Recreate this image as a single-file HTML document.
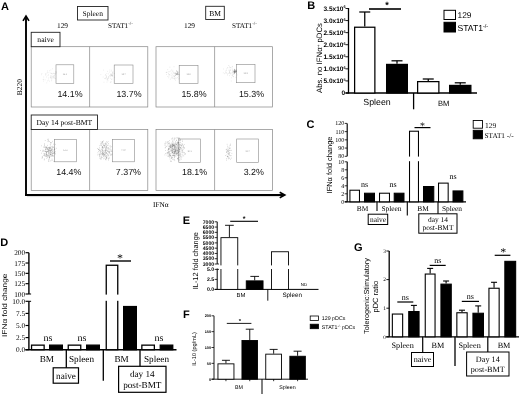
<!DOCTYPE html>
<html lang="en">
<head>
<meta charset="utf-8">
<title>Figure</title>
<style>
html,body{margin:0;padding:0;background:#fff;}
body{width:520px;height:395px;overflow:hidden;}
svg{display:block;text-rendering:geometricPrecision;}
.sa{font-family:'Liberation Sans', Arial, sans-serif;}
.se{font-family:'Liberation Serif', 'Times New Roman', serif;}
</style>
</head>
<body>
<svg width="520" height="395" viewBox="0 0 520 395">
<rect x="0" y="0" width="520" height="395" fill="#fff"/>
<text class="sa" x="1.1" y="9.5" font-size="11" text-anchor="start" font-weight="bold" fill="#000" >A</text>
<line x1="26" y1="16.5" x2="26" y2="195.9" stroke="#000" stroke-width="1.9" />
<path d="M23 20.8 L26 16 L29 20.8" fill="none" stroke="#000" stroke-width="1.6" stroke-linejoin="miter"/>
<line x1="25" y1="195" x2="284" y2="195" stroke="#000" stroke-width="1.9" />
<path d="M279.7 192.2 L284.8 195 L279.7 197.8" fill="none" stroke="#000" stroke-width="1.6" stroke-linejoin="miter"/>
<line x1="27" y1="196.6" x2="279" y2="196.6" stroke="#ccc" stroke-width="0.7" />
<text class="se" transform="translate(21.5,87.2) rotate(-90)" font-size="7.5" text-anchor="middle" fill="#000">B220</text>
<text class="se" x="153" y="206.5" font-size="7.3" text-anchor="start" font-weight="normal" fill="#000" >IFNα</text>
<rect x="77.50" y="6.50" width="30.50" height="13.50" fill="#fff" stroke="#222" stroke-width="0.9" />
<text class="se" x="92.7" y="16" font-size="7.5" text-anchor="middle" font-weight="normal" fill="#000" >Spleen</text>
<rect x="205.70" y="6.30" width="18.60" height="13.20" fill="#fff" stroke="#222" stroke-width="0.9" />
<text class="se" x="215" y="15.8" font-size="7.5" text-anchor="middle" font-weight="normal" fill="#000" >BM</text>
<text class="se" x="62.5" y="28" font-size="7.4" text-anchor="middle" font-weight="normal" fill="#000" >129</text>
<text class="se" x="189.5" y="28" font-size="7.4" text-anchor="middle" font-weight="normal" fill="#000" >129</text>
<text class="se" x="108" y="28" font-size="7.2">STAT1<tspan font-size="5" dy="-2.6">-/-</tspan></text>
<text class="se" x="232" y="28" font-size="7.2">STAT1<tspan font-size="5" dy="-2.6">-/-</tspan></text>
<rect x="31.20" y="46.70" width="116.60" height="60.30" fill="none" stroke="#858585" stroke-width="0.7" />
<line x1="89.6" y1="46.7" x2="89.6" y2="107" stroke="#858585" stroke-width="0.7" />
<rect x="156.00" y="46.70" width="116.50" height="60.30" fill="none" stroke="#858585" stroke-width="0.7" />
<line x1="214.6" y1="46.7" x2="214.6" y2="107" stroke="#858585" stroke-width="0.7" />
<rect x="31.20" y="129.50" width="116.60" height="60.90" fill="none" stroke="#858585" stroke-width="0.7" />
<line x1="89.6" y1="129.5" x2="89.6" y2="190.4" stroke="#858585" stroke-width="0.7" />
<rect x="156.00" y="129.50" width="116.50" height="60.90" fill="none" stroke="#858585" stroke-width="0.7" />
<line x1="214.6" y1="129.5" x2="214.6" y2="190.4" stroke="#858585" stroke-width="0.7" />
<rect x="31.20" y="32.30" width="28.80" height="14.40" fill="#fff" stroke="#222" stroke-width="0.9" />
<text class="se" x="45.6" y="42.3" font-size="7.6" text-anchor="middle" font-weight="normal" fill="#000" >naive</text>
<rect x="31.20" y="115.00" width="66.30" height="14.50" fill="#fff" stroke="#222" stroke-width="0.9" />
<text class="se" x="64.3" y="125" font-size="7.6" text-anchor="middle" font-weight="normal" fill="#000" >Day 14 post-BMT</text>
<rect x="56.00" y="64.80" width="17.80" height="18.60" fill="none" stroke="#8a8a8a" stroke-width="0.6" />
<text class="sa" x="70" y="96.5" font-size="8.9" text-anchor="middle" font-weight="normal" fill="#111" >14.1%</text>
<text class="sa" x="64.9" y="74.89999999999999" font-size="2.2" text-anchor="middle" font-weight="normal" fill="#999" >14.1</text>
<rect x="114.20" y="65.00" width="18.80" height="18.50" fill="none" stroke="#8a8a8a" stroke-width="0.6" />
<text class="sa" x="129" y="96.5" font-size="8.9" text-anchor="middle" font-weight="normal" fill="#111" >13.7%</text>
<text class="sa" x="123.6" y="75.05" font-size="2.2" text-anchor="middle" font-weight="normal" fill="#999" >13.7</text>
<rect x="179.20" y="65.40" width="18.80" height="18.10" fill="none" stroke="#8a8a8a" stroke-width="0.6" />
<text class="sa" x="194" y="96.5" font-size="8.9" text-anchor="middle" font-weight="normal" fill="#111" >15.8%</text>
<text class="sa" x="188.6" y="75.25" font-size="2.2" text-anchor="middle" font-weight="normal" fill="#999" >15.8</text>
<rect x="236.30" y="64.60" width="18.70" height="18.10" fill="none" stroke="#8a8a8a" stroke-width="0.6" />
<text class="sa" x="251.5" y="96.5" font-size="8.9" text-anchor="middle" font-weight="normal" fill="#111" >15.3%</text>
<text class="sa" x="245.65" y="74.45" font-size="2.2" text-anchor="middle" font-weight="normal" fill="#999" >15.3</text>
<rect x="54.50" y="139.50" width="21.80" height="22.30" fill="none" stroke="#8a8a8a" stroke-width="0.6" />
<text class="sa" x="68.8" y="175.2" font-size="8.9" text-anchor="middle" font-weight="normal" fill="#111" >14.4%</text>
<text class="sa" x="65.4" y="151.45000000000002" font-size="2.2" text-anchor="middle" font-weight="normal" fill="#999" >14.4</text>
<rect x="112.50" y="139.50" width="22.00" height="22.30" fill="none" stroke="#8a8a8a" stroke-width="0.6" />
<text class="sa" x="128.4" y="175.2" font-size="8.9" text-anchor="middle" font-weight="normal" fill="#111" >7.37%</text>
<text class="sa" x="123.5" y="151.45000000000002" font-size="2.2" text-anchor="middle" font-weight="normal" fill="#999" >7.37</text>
<rect x="178.80" y="139.00" width="21.50" height="23.50" fill="none" stroke="#8a8a8a" stroke-width="0.6" />
<text class="sa" x="194.6" y="175.2" font-size="8.9" text-anchor="middle" font-weight="normal" fill="#111" >18.1%</text>
<text class="sa" x="189.55" y="151.55" font-size="2.2" text-anchor="middle" font-weight="normal" fill="#999" >18.1</text>
<rect x="236.70" y="139.00" width="21.80" height="23.50" fill="none" stroke="#8a8a8a" stroke-width="0.6" />
<text class="sa" x="253.8" y="175.2" font-size="8.9" text-anchor="middle" font-weight="normal" fill="#111" >3.2%</text>
<text class="sa" x="247.6" y="151.55" font-size="2.2" text-anchor="middle" font-weight="normal" fill="#999" >3.17</text>
<path d="M48.0 78.0h.6M48.2 74.7h.6M45.5 75.1h.6M53.2 77.7h.6M52.9 77.0h.6M50.5 76.7h.6M42.8 79.4h.6M50.9 78.0h.6M45.7 74.1h.6M50.1 75.8h.6M51.0 73.4h.6M50.2 77.6h.6M46.5 82.9h.6M51.1 80.8h.6M46.7 73.0h.6M47.7 75.6h.6M51.4 77.0h.6M47.3 72.2h.6M47.0 80.9h.6M46.0 77.0h.6M50.6 70.0h.6M49.2 81.2h.6M41.4 74.7h.6M48.6 72.7h.6M50.9 75.8h.6M43.5 79.3h.6M51.5 79.8h.6M54.4 77.4h.6M49.4 70.8h.6M51.3 73.6h.6M47.3 70.9h.6M45.4 73.9h.6M43.5 77.0h.6M54.4 78.3h.6M50.3 73.1h.6M44.8 79.9h.6M53.1 76.6h.6M49.9 77.7h.6M55.0 78.5h.6M50.9 78.2h.6M43.1 81.1h.6M52.6 78.1h.6M41.6 73.5h.6M52.2 68.8h.6M48.3 80.1h.6" stroke="#555" stroke-width="0.6" opacity="0.25" fill="none"/>
<path d="M52.4 76.8h.6M54.7 73.7h.6M54.4 75.1h.6M54.2 76.0h.6M53.2 73.3h.6M55.3 74.0h.6M52.9 75.7h.6M55.8 73.2h.6M52.3 73.8h.6M53.8 73.5h.6M55.8 72.2h.6M55.6 71.8h.6" stroke="#555" stroke-width="0.6" opacity="0.3" fill="none"/>
<path d="M104.0 78.5h.6M111.2 79.4h.6M108.3 76.6h.6M107.6 78.3h.6M106.3 77.1h.6M109.1 76.0h.6M109.9 78.3h.6M114.5 77.3h.6M105.4 74.5h.6M107.0 79.7h.6M105.7 77.5h.6M102.8 77.0h.6M108.5 77.0h.6M105.4 78.6h.6M108.1 73.9h.6M104.9 75.6h.6M106.2 75.7h.6M110.8 71.3h.6M106.7 79.8h.6M110.2 82.0h.6M100.6 74.6h.6M105.7 78.5h.6M111.1 70.2h.6M109.6 70.0h.6M107.7 80.8h.6M106.4 76.8h.6M110.0 76.6h.6M106.7 82.1h.6M110.9 74.8h.6M110.4 74.9h.6M107.5 78.8h.6M107.8 78.6h.6M109.3 72.1h.6M103.2 70.1h.6M111.7 79.0h.6M112.5 72.2h.6M107.0 71.4h.6M109.9 82.4h.6M103.7 82.2h.6M110.7 75.3h.6M106.6 73.6h.6M108.5 77.6h.6M112.6 71.9h.6M111.3 81.9h.6M112.4 75.3h.6" stroke="#555" stroke-width="0.6" opacity="0.25" fill="none"/>
<path d="M111.1 75.8h.6M112.1 74.2h.6M113.8 73.5h.6M109.7 75.4h.6M112.4 72.9h.6M112.0 75.5h.6M112.1 76.3h.6M111.9 75.8h.6M111.2 75.5h.6M110.5 74.0h.6M111.8 73.9h.6M111.3 74.4h.6" stroke="#555" stroke-width="0.6" opacity="0.3" fill="none"/>
<path d="M178.7 75.2h.6M174.0 79.0h.6M171.3 70.0h.6M169.9 79.3h.6M165.8 72.6h.6M175.8 78.2h.6M172.0 78.2h.6M172.6 70.3h.6M166.1 72.4h.6M175.5 72.7h.6M168.6 71.9h.6M166.3 74.5h.6M167.6 76.5h.6M169.6 67.2h.6M174.7 73.9h.6M173.1 73.2h.6M174.9 78.0h.6M174.5 76.3h.6M177.0 77.6h.6M173.7 66.7h.6M175.4 80.2h.6M170.9 73.1h.6M168.5 77.8h.6M179.1 74.5h.6M174.1 78.6h.6M168.6 74.6h.6M173.1 78.3h.6M171.9 74.2h.6M168.2 73.6h.6M175.3 75.4h.6M168.8 71.6h.6M174.3 76.9h.6M178.3 76.7h.6M171.7 77.1h.6M173.2 72.2h.6M166.7 72.3h.6M173.1 75.7h.6M170.5 71.1h.6M167.5 69.6h.6M178.4 79.0h.6M178.8 78.2h.6M168.7 76.0h.6M171.8 77.1h.6M169.3 74.5h.6M173.7 76.5h.6M174.4 75.8h.6M170.8 78.2h.6M172.2 71.7h.6M169.7 75.0h.6M171.6 75.6h.6" stroke="#555" stroke-width="0.6" opacity="0.28" fill="none"/>
<path d="M176.5 73.3h.6M176.4 71.1h.6M177.0 74.6h.6M177.0 72.7h.6M177.0 71.6h.6M174.4 73.1h.6M175.5 74.1h.6M175.4 75.4h.6M176.1 70.9h.6M175.7 73.8h.6M177.0 73.3h.6M178.1 74.1h.6M176.5 73.9h.6M178.3 74.5h.6M177.6 71.4h.6M176.3 74.1h.6M176.2 74.6h.6M177.2 74.4h.6M177.9 72.7h.6M176.1 74.3h.6M177.6 73.0h.6M175.2 73.3h.6M176.9 74.7h.6M177.4 73.0h.6M177.4 73.8h.6" stroke="#555" stroke-width="0.6" opacity="0.5" fill="none"/>
<path d="M230.8 73.2h.6M229.1 75.6h.6M226.0 70.6h.6M230.0 67.5h.6M228.4 65.5h.6M227.4 75.1h.6M232.1 72.8h.6M229.1 67.7h.6M236.9 74.9h.6M234.1 69.7h.6M229.3 66.2h.6M232.9 76.5h.6M222.9 72.8h.6M232.4 66.4h.6M223.2 69.0h.6M227.6 67.7h.6M230.1 73.9h.6M232.4 75.6h.6M235.6 77.4h.6M225.1 71.1h.6M226.0 69.0h.6M229.7 73.0h.6M231.8 67.0h.6M225.4 72.9h.6M229.3 71.8h.6M229.8 70.2h.6M232.6 74.3h.6M229.7 70.5h.6M226.3 73.1h.6M224.4 73.7h.6M230.6 67.8h.6M229.1 71.8h.6M231.7 75.3h.6M229.9 69.8h.6M229.5 72.8h.6M232.8 74.1h.6M227.3 67.9h.6M228.6 70.2h.6M225.8 72.6h.6M228.2 73.4h.6M232.0 71.5h.6M234.1 73.5h.6M227.2 73.9h.6M231.2 77.8h.6M232.9 76.6h.6M231.9 72.4h.6M231.9 69.0h.6M234.4 69.2h.6M230.9 81.0h.6M229.2 73.1h.6" stroke="#555" stroke-width="0.6" opacity="0.28" fill="none"/>
<path d="M235.7 71.5h.6M233.7 71.8h.6M235.1 72.4h.6M233.7 73.8h.6M236.2 71.5h.6M234.8 70.9h.6M235.9 70.6h.6M235.2 70.9h.6M233.8 72.4h.6M235.8 71.5h.6M233.8 72.6h.6M234.5 71.9h.6M236.0 73.0h.6M234.5 72.5h.6M233.9 71.4h.6M235.9 69.9h.6M235.7 70.9h.6M234.4 71.1h.6M234.4 70.1h.6M234.5 69.6h.6M234.4 71.9h.6M235.0 71.2h.6M233.6 71.7h.6M234.0 73.5h.6M235.3 71.4h.6M234.0 70.6h.6M233.6 71.0h.6M234.8 72.2h.6M233.8 71.5h.6M234.0 71.7h.6M234.7 72.0h.6M234.3 72.0h.6M234.6 72.5h.6M232.6 70.3h.6M234.5 70.2h.6" stroke="#555" stroke-width="0.6" opacity="0.6" fill="none"/>
<path d="M44.3 155.1h.6M45.9 155.2h.6M51.5 153.3h.6M50.5 150.9h.6M42.9 151.3h.6M50.3 148.5h.6M48.1 155.8h.6M45.0 155.2h.6M56.0 148.3h.6M49.1 150.6h.6M54.7 153.3h.6M52.1 147.5h.6M48.4 151.4h.6M52.1 141.4h.6M51.5 150.7h.6M50.3 153.6h.6M42.5 150.3h.6M54.5 148.2h.6M44.4 143.7h.6M43.6 153.4h.6M55.3 154.0h.6M46.4 147.6h.6M50.6 154.7h.6M44.4 144.8h.6M49.7 152.9h.6M43.3 150.3h.6M46.3 154.1h.6M48.0 151.0h.6M47.1 157.6h.6M54.1 149.4h.6M51.9 147.1h.6M48.8 155.8h.6M54.6 149.3h.6M48.2 152.6h.6M42.5 151.6h.6M45.8 153.6h.6M48.7 153.0h.6M46.3 156.6h.6M47.4 148.0h.6M50.4 142.5h.6M45.8 151.4h.6M51.9 150.6h.6M49.7 147.7h.6M49.7 161.1h.6M45.9 151.6h.6M49.2 157.4h.6M50.9 156.1h.6M49.3 153.0h.6M52.2 153.6h.6M55.2 144.4h.6M51.7 149.4h.6M48.5 150.0h.6M46.5 146.7h.6M46.0 155.2h.6M48.6 151.9h.6M47.8 156.8h.6M50.5 150.7h.6M51.2 150.6h.6M43.9 159.9h.6M50.4 146.0h.6M52.8 153.5h.6M49.8 156.6h.6M49.3 150.6h.6M42.3 157.1h.6M48.6 149.9h.6M49.9 151.9h.6M51.2 149.4h.6M48.4 139.2h.6M46.8 155.4h.6M53.8 149.4h.6M48.0 160.6h.6M47.2 155.7h.6M55.2 151.7h.6M53.4 147.4h.6M49.3 151.1h.6M49.0 158.0h.6M46.2 154.4h.6M44.3 154.4h.6M50.8 149.9h.6M50.6 142.6h.6M51.5 142.6h.6M45.7 148.3h.6M46.9 156.4h.6M48.8 149.2h.6M50.7 160.6h.6M48.5 153.6h.6M53.5 153.0h.6M48.3 153.9h.6M52.4 155.3h.6M47.4 145.4h.6M48.9 157.4h.6M44.1 145.6h.6M48.4 140.4h.6M47.5 149.0h.6M50.3 147.5h.6M45.0 149.2h.6M48.3 147.7h.6M48.5 155.8h.6M53.2 161.3h.6M45.4 149.1h.6M45.6 151.3h.6M50.6 143.7h.6M50.4 151.3h.6M41.2 153.2h.6M51.7 152.7h.6M50.4 154.0h.6M53.7 150.2h.6M52.0 149.1h.6M51.4 146.8h.6M48.1 161.5h.6M50.3 150.6h.6M43.9 147.0h.6M49.3 156.9h.6M50.2 154.5h.6M48.3 159.3h.6M46.9 148.3h.6M52.1 151.9h.6M47.4 148.2h.6M47.5 155.1h.6M49.9 144.5h.6M50.2 152.5h.6M44.5 155.9h.6M47.4 149.6h.6M51.7 159.1h.6M45.7 154.0h.6M46.5 158.4h.6M45.9 156.2h.6M46.8 154.4h.6M48.1 147.7h.6M41.9 156.4h.6M41.6 158.1h.6M46.2 152.3h.6M53.5 152.2h.6M53.2 155.8h.6M45.2 156.4h.6M50.5 155.2h.6M52.1 155.7h.6M49.2 154.3h.6M47.2 151.7h.6M52.0 149.0h.6M53.1 147.0h.6M49.6 148.5h.6M49.1 147.5h.6M42.1 157.8h.6M49.7 148.3h.6M49.3 157.2h.6M44.6 150.9h.6M50.7 154.5h.6M47.2 139.4h.6M53.5 153.4h.6M48.6 149.9h.6M49.6 149.1h.6M44.4 147.2h.6M46.1 148.0h.6M43.9 155.2h.6M43.3 155.3h.6M44.4 153.5h.6M54.0 152.7h.6M45.6 151.8h.6M49.1 141.5h.6M46.1 152.4h.6M46.6 152.0h.6M51.4 155.9h.6M52.1 154.9h.6M47.3 151.4h.6M47.4 149.7h.6M47.8 141.6h.6M47.2 151.4h.6M44.6 151.4h.6M50.6 150.6h.6M47.7 141.0h.6M50.6 149.8h.6M51.9 153.6h.6M48.6 148.1h.6M51.1 148.7h.6M49.4 148.6h.6M49.3 155.8h.6M45.0 151.3h.6M51.0 152.3h.6M44.9 140.5h.6M51.9 160.3h.6M52.2 156.2h.6M46.0 147.4h.6M52.1 146.3h.6M41.2 145.8h.6M45.8 147.3h.6M49.4 147.2h.6M53.7 151.0h.6M44.2 159.0h.6M46.2 152.8h.6M48.4 149.7h.6M49.8 147.5h.6M43.4 147.1h.6M48.4 151.8h.6M50.7 152.2h.6M45.3 147.4h.6M40.0 150.5h.6M50.4 154.5h.6M48.0 150.5h.6M52.2 151.6h.6M51.5 154.8h.6M49.4 159.0h.6M46.2 149.4h.6M45.3 146.9h.6M48.6 154.8h.6M53.2 156.1h.6M53.3 144.2h.6M45.9 154.1h.6M54.2 152.1h.6M45.1 149.5h.6" stroke="#555" stroke-width="0.6" opacity="0.5" fill="none"/>
<path d="M102.1 146.7h.6M110.0 147.9h.6M108.8 152.7h.6M102.3 153.1h.6M110.4 154.1h.6M109.1 151.5h.6M106.4 150.0h.6M106.1 157.5h.6M99.3 150.7h.6M105.4 148.1h.6M103.4 154.9h.6M111.8 154.1h.6M105.7 143.2h.6M111.5 151.4h.6M104.4 145.4h.6M104.3 145.5h.6M104.8 153.3h.6M104.6 152.4h.6M101.4 158.1h.6M102.1 141.9h.6M103.8 147.2h.6M100.8 149.2h.6M105.6 145.1h.6M104.0 158.1h.6M107.0 150.2h.6M105.0 150.4h.6M104.3 154.7h.6M104.4 146.6h.6M106.9 147.9h.6M100.7 145.4h.6M97.6 152.8h.6M102.2 141.7h.6M99.1 154.1h.6M101.7 149.2h.6M105.7 157.8h.6M105.0 151.9h.6M103.4 153.3h.6M105.5 151.3h.6M102.7 144.4h.6M102.6 143.3h.6M109.0 153.7h.6M100.1 158.0h.6M107.8 141.5h.6M111.2 155.0h.6M106.4 153.1h.6M105.2 151.9h.6M108.3 143.5h.6M100.0 144.0h.6M102.5 148.0h.6M105.8 152.3h.6M104.6 147.6h.6M102.9 155.8h.6M107.3 151.5h.6M103.3 158.8h.6M102.3 154.2h.6M108.7 149.7h.6M107.5 145.4h.6M108.2 152.0h.6M98.7 154.3h.6M101.2 157.4h.6M102.0 150.2h.6M105.5 149.3h.6M105.4 148.2h.6M107.0 151.0h.6M108.7 151.2h.6M98.0 151.5h.6M106.2 156.4h.6M100.5 158.7h.6M104.0 154.4h.6M103.2 145.4h.6M108.5 155.5h.6M110.1 155.3h.6M102.4 142.7h.6M102.1 147.6h.6M101.5 153.9h.6M105.7 149.7h.6M105.1 150.3h.6M105.3 154.8h.6M108.0 147.6h.6M99.0 158.1h.6M104.9 156.5h.6M98.5 149.4h.6M104.6 143.8h.6M102.6 154.6h.6M108.4 159.0h.6M101.3 144.0h.6M106.4 155.7h.6M105.2 144.5h.6M107.4 155.0h.6M106.5 148.6h.6M105.6 155.0h.6M102.5 141.8h.6M105.7 153.4h.6M104.5 155.4h.6M102.4 150.6h.6M103.4 153.9h.6M110.3 149.7h.6M107.4 153.9h.6M111.0 150.1h.6M104.1 145.7h.6M106.2 157.7h.6M106.4 153.1h.6M103.8 151.8h.6M99.3 156.2h.6M103.0 145.5h.6M101.8 146.9h.6M107.6 156.3h.6M99.5 155.6h.6M107.7 148.1h.6M99.1 147.3h.6M102.2 152.7h.6M103.2 140.9h.6M105.4 143.3h.6M107.8 145.0h.6M102.0 146.7h.6M102.5 157.5h.6M107.6 154.0h.6M105.7 143.3h.6M102.6 148.2h.6M100.9 153.5h.6M101.8 147.5h.6M106.7 157.7h.6M105.1 146.1h.6M108.9 152.5h.6M107.9 158.4h.6M108.6 148.8h.6M108.3 154.9h.6M98.9 149.0h.6M99.3 150.5h.6M106.6 145.7h.6M105.9 158.4h.6M99.7 156.3h.6M103.7 152.3h.6M103.9 156.0h.6M108.3 151.4h.6M99.5 154.7h.6M102.8 154.1h.6M105.5 159.1h.6M108.7 148.7h.6M105.8 159.8h.6M102.5 153.2h.6M108.8 157.3h.6M106.4 144.4h.6M99.9 152.2h.6M101.4 156.7h.6M107.3 142.6h.6M101.5 151.8h.6M102.7 150.2h.6M106.2 147.0h.6M106.2 147.8h.6M102.5 153.7h.6M102.4 152.4h.6M110.3 151.1h.6M104.0 154.7h.6M103.2 156.4h.6M99.8 154.1h.6M102.6 147.0h.6M111.0 146.7h.6M110.9 154.3h.6M109.8 146.1h.6M108.9 158.3h.6M104.1 150.4h.6M103.0 147.9h.6M106.1 152.7h.6M105.1 159.6h.6M103.3 153.4h.6M109.8 146.0h.6M108.3 160.2h.6M99.6 145.5h.6M100.7 141.8h.6M106.2 141.7h.6M106.3 158.3h.6M98.6 149.4h.6M97.5 154.9h.6M101.8 149.7h.6M104.7 153.7h.6M103.2 151.1h.6M102.5 151.6h.6M100.2 151.3h.6M97.4 148.5h.6M111.5 151.4h.6M99.9 152.3h.6M101.0 142.7h.6M101.8 154.7h.6M105.9 150.5h.6M101.1 145.6h.6M109.4 152.2h.6M100.3 150.6h.6M105.3 150.2h.6M103.5 144.1h.6M100.7 159.4h.6M101.7 155.2h.6M98.3 149.6h.6M105.5 156.2h.6M100.4 154.0h.6M105.9 147.3h.6M106.2 146.5h.6M101.6 150.9h.6M100.8 143.7h.6M102.9 154.8h.6" stroke="#555" stroke-width="0.6" opacity="0.5" fill="none"/>
<path d="M172.4 157.1h.6M168.4 141.6h.6M182.6 151.9h.6M179.5 144.5h.6M178.7 151.1h.6M177.9 149.7h.6M180.8 145.6h.6M169.4 140.6h.6M180.6 145.1h.6M169.0 143.9h.6M172.2 141.9h.6M173.0 145.7h.6M171.6 143.7h.6M174.7 146.7h.6M175.1 151.0h.6M171.7 144.7h.6M178.6 140.0h.6M170.7 147.7h.6M172.7 155.4h.6M172.2 155.3h.6M180.9 152.1h.6M177.1 150.2h.6M177.0 142.2h.6M179.5 146.3h.6M179.7 150.0h.6M180.4 148.7h.6M172.4 151.0h.6M172.3 146.2h.6M175.0 150.4h.6M182.5 149.8h.6M183.5 155.9h.6M175.2 150.3h.6M173.8 145.1h.6M174.2 145.7h.6M183.1 152.7h.6M172.2 138.0h.6M174.2 147.0h.6M168.8 142.7h.6M174.3 148.6h.6M182.1 150.3h.6M175.4 147.3h.6M171.3 158.5h.6M179.8 159.8h.6M172.7 149.7h.6M169.9 155.3h.6M167.2 152.9h.6M180.3 158.0h.6M169.6 156.0h.6M170.8 145.0h.6M167.6 156.4h.6M183.2 145.9h.6M170.5 147.5h.6M171.7 138.7h.6M171.0 156.6h.6M184.3 147.9h.6M170.9 146.4h.6M164.6 154.9h.6M168.8 155.9h.6M165.5 141.9h.6M176.0 144.9h.6M178.6 149.5h.6M168.3 153.2h.6M178.9 138.0h.6M184.1 152.5h.6M178.5 138.3h.6M170.7 147.4h.6M180.2 140.7h.6M173.2 151.6h.6M165.6 146.0h.6M177.2 159.0h.6M178.0 147.7h.6M168.3 143.9h.6M171.0 150.4h.6M174.2 159.5h.6M176.0 143.1h.6M182.6 155.2h.6M175.0 145.2h.6M164.7 143.4h.6M179.3 144.7h.6M167.6 150.7h.6M175.8 153.1h.6M177.9 158.0h.6M170.1 155.4h.6M169.3 153.7h.6M175.4 151.0h.6M179.6 149.4h.6M180.3 154.8h.6M175.2 146.1h.6M170.5 146.3h.6M173.4 149.4h.6M178.5 144.3h.6M170.8 147.6h.6M175.5 143.3h.6M183.0 146.1h.6M174.5 151.2h.6M175.5 153.1h.6M176.0 150.5h.6M164.6 145.2h.6M176.1 148.3h.6M170.2 146.0h.6M174.2 157.2h.6M172.0 144.3h.6M171.6 150.6h.6M174.8 151.2h.6M174.3 155.1h.6M175.3 147.9h.6M176.4 140.3h.6M177.3 150.7h.6M172.5 145.0h.6M167.1 144.0h.6M178.2 152.8h.6M174.4 152.6h.6M171.3 149.9h.6M174.7 152.8h.6M174.1 148.6h.6M173.8 145.6h.6M181.9 140.2h.6M178.2 154.5h.6M178.5 142.4h.6M169.9 151.1h.6M177.2 143.4h.6M172.5 147.1h.6M174.8 151.5h.6M173.0 142.1h.6M181.0 159.1h.6M173.9 155.6h.6M176.8 153.5h.6M177.0 144.9h.6M177.5 155.6h.6M184.9 154.0h.6M172.7 145.9h.6M170.2 150.2h.6M174.3 153.5h.6M178.0 152.4h.6M175.9 148.2h.6M173.9 144.6h.6M175.4 149.4h.6M176.2 144.4h.6M174.7 149.8h.6M177.7 143.1h.6M176.7 155.4h.6M177.6 147.3h.6M171.9 148.1h.6M178.3 158.8h.6M173.7 145.6h.6M176.5 150.7h.6M169.7 145.1h.6M174.0 153.5h.6M168.2 143.4h.6M177.1 142.2h.6M175.1 151.6h.6M173.9 143.4h.6M174.2 147.5h.6M176.3 144.5h.6M180.2 139.4h.6M173.6 149.5h.6M179.5 145.8h.6M177.4 146.1h.6M178.4 159.9h.6M172.4 152.2h.6M169.6 155.3h.6M180.9 149.7h.6M168.5 151.9h.6M180.5 156.0h.6M178.8 138.5h.6M170.9 158.0h.6M168.1 156.3h.6M184.4 154.1h.6M180.4 147.5h.6M168.1 148.9h.6M173.5 149.2h.6M178.2 148.6h.6M175.5 152.0h.6M174.5 160.6h.6M176.8 150.0h.6M173.4 145.7h.6M181.6 150.4h.6M168.8 146.1h.6M173.8 146.8h.6M180.2 142.5h.6M177.1 150.4h.6M168.3 149.8h.6M174.0 152.5h.6M172.1 151.3h.6M165.8 143.0h.6M178.6 155.7h.6M174.4 145.9h.6M170.3 153.5h.6M177.9 143.3h.6M175.3 144.1h.6M174.8 154.9h.6M178.5 138.8h.6M180.5 151.9h.6M174.5 155.8h.6M171.1 145.3h.6M172.5 149.1h.6M168.8 152.4h.6M177.4 149.9h.6M183.4 147.5h.6M181.4 146.2h.6M178.5 137.9h.6M175.5 148.4h.6M171.9 145.8h.6M172.7 145.2h.6M171.6 146.4h.6M168.9 148.7h.6M178.6 148.0h.6M171.9 157.6h.6M179.6 155.0h.6M180.6 147.5h.6M173.8 156.2h.6M171.6 148.8h.6M176.5 151.7h.6M173.0 155.4h.6M173.6 153.9h.6M180.1 153.5h.6M178.4 142.5h.6M167.6 145.8h.6M177.0 158.5h.6M168.1 151.3h.6M170.0 145.1h.6M173.0 153.7h.6M175.6 156.6h.6M169.3 154.8h.6M179.4 149.9h.6M177.0 146.1h.6M168.8 147.1h.6M172.0 159.4h.6M175.6 151.4h.6M178.4 144.8h.6M179.3 151.8h.6M166.5 153.1h.6M177.4 152.2h.6M182.8 147.0h.6M177.2 154.0h.6M169.8 156.7h.6M166.9 141.7h.6M177.2 143.0h.6M173.9 139.6h.6M174.9 142.7h.6M176.3 140.3h.6M176.9 147.9h.6M174.8 149.1h.6M175.2 141.6h.6M169.6 146.8h.6M176.7 137.6h.6M170.5 145.8h.6M168.9 151.5h.6M173.8 144.6h.6M169.3 154.3h.6M171.0 153.0h.6M176.9 138.1h.6M168.8 149.5h.6M176.3 154.2h.6M178.7 155.7h.6M172.5 148.2h.6M178.6 146.9h.6M180.0 140.0h.6M177.9 148.5h.6M176.1 149.6h.6M168.8 146.7h.6M182.4 144.5h.6M168.2 148.7h.6M172.4 144.0h.6M170.1 155.8h.6M171.6 142.9h.6M178.6 152.9h.6M169.0 154.0h.6M164.8 144.0h.6M180.4 148.0h.6M167.7 152.6h.6M179.3 149.4h.6M165.0 147.4h.6M176.7 154.1h.6M184.2 148.0h.6M172.0 149.3h.6M180.8 143.9h.6M178.7 145.4h.6M176.9 153.6h.6M168.3 149.0h.6M175.8 153.0h.6M169.6 143.6h.6M173.5 148.2h.6M166.7 155.1h.6M171.7 158.1h.6M179.0 149.6h.6M178.3 142.8h.6M172.8 146.0h.6M167.8 149.6h.6M173.7 158.1h.6M169.7 146.7h.6M176.7 151.9h.6M174.6 146.7h.6M177.1 151.7h.6M164.8 147.9h.6M167.3 142.4h.6M175.3 149.9h.6M175.1 144.2h.6M173.4 144.0h.6M176.5 153.6h.6M170.3 146.8h.6M169.6 151.3h.6M184.9 153.8h.6M167.7 152.6h.6M174.5 151.3h.6M183.9 144.5h.6M170.0 161.3h.6M176.3 144.8h.6M174.7 155.5h.6M173.8 145.3h.6M170.6 160.9h.6M165.2 150.5h.6M174.6 153.2h.6M172.4 152.5h.6M178.8 148.6h.6M172.1 148.4h.6M169.4 148.3h.6M172.9 150.8h.6M181.5 157.3h.6M172.2 153.1h.6M176.0 154.1h.6M174.6 151.1h.6M172.0 144.8h.6M179.1 157.3h.6M178.0 152.1h.6M175.9 146.8h.6M165.1 153.5h.6M175.5 146.2h.6M169.4 157.2h.6M170.7 149.4h.6M171.8 150.4h.6M173.4 145.0h.6M180.1 144.8h.6M171.8 152.8h.6M171.7 146.9h.6M176.4 147.3h.6M168.0 148.9h.6M173.3 159.7h.6M168.7 155.3h.6M170.4 147.4h.6M172.8 151.1h.6M179.0 160.0h.6M171.2 157.5h.6M179.7 154.4h.6M170.5 154.9h.6M173.9 151.6h.6M173.1 153.5h.6M180.4 156.3h.6M173.4 155.5h.6M182.1 143.9h.6M182.2 141.5h.6M177.3 153.1h.6M182.3 151.2h.6M172.0 144.7h.6M167.9 154.1h.6M173.3 145.2h.6M177.3 144.9h.6M172.2 146.7h.6M173.7 140.1h.6M176.0 149.9h.6M176.3 152.9h.6M172.8 155.1h.6M178.9 150.8h.6M172.4 146.6h.6M178.1 142.9h.6M173.7 145.0h.6M167.2 153.1h.6M174.4 149.7h.6M179.1 140.5h.6M174.1 151.2h.6M178.9 143.0h.6M178.3 150.8h.6M181.6 156.3h.6M174.5 147.0h.6M172.7 143.9h.6M174.3 138.2h.6M174.1 152.1h.6M179.7 147.4h.6M181.8 145.6h.6M173.8 138.2h.6M170.5 144.8h.6M182.2 152.6h.6M168.8 152.6h.6M177.0 148.1h.6M174.6 147.7h.6M171.7 139.1h.6M174.0 157.0h.6M181.8 147.9h.6M170.7 148.3h.6M179.1 151.6h.6M171.5 151.6h.6M173.4 152.5h.6M172.4 140.9h.6M174.8 154.0h.6M168.8 148.9h.6M179.0 147.3h.6M171.2 161.4h.6M178.7 155.5h.6M169.7 159.0h.6M166.0 146.5h.6M178.3 157.3h.6M169.7 145.6h.6M175.5 138.2h.6M177.8 152.8h.6M172.2 152.6h.6M178.5 151.3h.6M177.2 158.3h.6M172.1 150.4h.6M171.8 155.5h.6M172.4 152.3h.6M175.2 149.9h.6M183.2 149.0h.6M181.7 154.3h.6M181.2 148.5h.6M179.2 153.9h.6M171.4 151.1h.6M173.8 149.3h.6M181.1 145.3h.6M172.2 145.8h.6M174.6 152.8h.6" stroke="#555" stroke-width="0.6" opacity="0.5" fill="none"/>
<path d="M231.6 153.4h.6M229.3 148.6h.6M229.5 158.2h.6M230.0 159.3h.6M229.9 145.2h.6M228.0 154.7h.6M229.2 148.3h.6M227.0 156.4h.6M226.2 158.6h.6M228.5 153.4h.6M226.2 149.3h.6M229.7 145.3h.6M226.4 152.2h.6M229.3 155.4h.6M227.9 151.1h.6M228.1 149.4h.6M228.9 152.7h.6M227.4 153.1h.6M228.5 151.6h.6M230.4 144.1h.6M228.9 147.1h.6M228.0 158.8h.6M226.6 151.5h.6M227.5 156.3h.6M226.8 144.3h.6M229.4 150.4h.6M227.9 156.9h.6M227.0 150.3h.6M228.8 153.9h.6M227.6 156.7h.6M230.9 150.4h.6M228.7 150.5h.6M227.4 146.2h.6M227.8 157.9h.6M230.5 150.4h.6M227.6 148.8h.6M226.4 160.2h.6M229.6 152.5h.6M227.7 147.3h.6M230.8 155.6h.6M226.9 156.5h.6M226.6 154.9h.6M226.8 150.1h.6M229.4 154.0h.6M230.2 148.2h.6M231.2 158.1h.6M228.5 154.1h.6M227.2 151.3h.6M226.2 152.4h.6M228.8 158.1h.6M230.1 155.7h.6M227.9 151.0h.6M227.9 153.0h.6M225.2 155.5h.6M225.8 149.7h.6" stroke="#555" stroke-width="0.6" opacity="0.5" fill="none"/>
<text class="sa" x="307.2" y="9.4" font-size="11" text-anchor="start" font-weight="bold" fill="#000" >B</text>
<line x1="348.5" y1="8" x2="348.5" y2="93.5" stroke="#000" stroke-width="1.3" />
<line x1="345.5" y1="93" x2="477" y2="93" stroke="#000" stroke-width="1.3" />
<line x1="345.5" y1="93.0" x2="348.5" y2="93.0" stroke="#000" stroke-width="0.9" />
<text class="sa" x="345.0" y="95.4" font-size="6.5" text-anchor="end" font-weight="bold" fill="#000" >0</text>
<line x1="345.5" y1="80.92857142857143" x2="348.5" y2="80.92857142857143" stroke="#000" stroke-width="0.9" />
<text class="sa" x="345.5" y="83.2" font-size="6.5" font-weight="bold" text-anchor="end">5.0x10<tspan font-size="3.8" dy="-2.4">5</tspan></text>
<line x1="345.5" y1="68.85714285714286" x2="348.5" y2="68.85714285714286" stroke="#000" stroke-width="0.9" />
<text class="sa" x="345.5" y="71.2" font-size="6.5" font-weight="bold" text-anchor="end">1.0x10<tspan font-size="3.8" dy="-2.4">6</tspan></text>
<line x1="345.5" y1="56.785714285714285" x2="348.5" y2="56.785714285714285" stroke="#000" stroke-width="0.9" />
<text class="sa" x="345.5" y="59.1" font-size="6.5" font-weight="bold" text-anchor="end">1.5x10<tspan font-size="3.8" dy="-2.4">6</tspan></text>
<line x1="345.5" y1="44.714285714285715" x2="348.5" y2="44.714285714285715" stroke="#000" stroke-width="0.9" />
<text class="sa" x="345.5" y="47.0" font-size="6.5" font-weight="bold" text-anchor="end">2.0x10<tspan font-size="3.8" dy="-2.4">6</tspan></text>
<line x1="345.5" y1="32.642857142857146" x2="348.5" y2="32.642857142857146" stroke="#000" stroke-width="0.9" />
<text class="sa" x="345.5" y="34.9" font-size="6.5" font-weight="bold" text-anchor="end">2.5x10<tspan font-size="3.8" dy="-2.4">6</tspan></text>
<line x1="345.5" y1="20.57142857142857" x2="348.5" y2="20.57142857142857" stroke="#000" stroke-width="0.9" />
<text class="sa" x="345.5" y="22.9" font-size="6.5" font-weight="bold" text-anchor="end">3.0x10<tspan font-size="3.8" dy="-2.4">6</tspan></text>
<line x1="345.5" y1="8.5" x2="348.5" y2="8.5" stroke="#000" stroke-width="0.9" />
<text class="sa" x="345.5" y="10.8" font-size="6.5" font-weight="bold" text-anchor="end">3.5x10<tspan font-size="3.8" dy="-2.4">6</tspan></text>
<text class="sa" transform="translate(322,58) rotate(-90)" font-size="7.8" text-anchor="middle">Abs. no IFNα<tspan font-size="4.5" dy="-2.5">+</tspan><tspan dy="2.5"> pDCs</tspan></text>
<line x1="364.75" y1="12" x2="364.75" y2="26.6" stroke="#000" stroke-width="1.25" />
<line x1="359.25" y1="12" x2="370.25" y2="12" stroke="#000" stroke-width="1.25" />
<rect x="354.62" y="27.23" width="20.25" height="65.78" fill="#fff" stroke="#000" stroke-width="1.25"/>
<line x1="397.0" y1="60.8" x2="397.0" y2="63.8" stroke="#000" stroke-width="1.25" />
<line x1="391.5" y1="60.8" x2="402.5" y2="60.8" stroke="#000" stroke-width="1.25" />
<rect x="386.62" y="64.42" width="20.75" height="28.58" fill="#000" stroke="#000" stroke-width="1.25"/>
<line x1="428.25" y1="79" x2="428.25" y2="81" stroke="#000" stroke-width="1.25" />
<line x1="422.75" y1="79" x2="433.75" y2="79" stroke="#000" stroke-width="1.25" />
<rect x="417.62" y="81.62" width="21.25" height="11.38" fill="#fff" stroke="#000" stroke-width="1.25"/>
<line x1="460.25" y1="82.8" x2="460.25" y2="84.8" stroke="#000" stroke-width="1.25" />
<line x1="454.75" y1="82.8" x2="465.75" y2="82.8" stroke="#000" stroke-width="1.25" />
<rect x="449.62" y="85.42" width="21.25" height="7.58" fill="#000" stroke="#000" stroke-width="1.25"/>
<line x1="369" y1="9" x2="401" y2="9" stroke="#000" stroke-width="1.6" />
<text class="sa" x="387" y="8" font-size="9" text-anchor="middle" font-weight="bold" fill="#000" >*</text>
<line x1="413.6" y1="93" x2="413.6" y2="109.3" stroke="#000" stroke-width="1.3" />
<text class="sa" x="377" y="104.5" font-size="8.8" text-anchor="middle" font-weight="normal" fill="#000" >Spleen</text>
<text class="sa" x="443.6" y="105.6" font-size="7.6" text-anchor="middle" font-weight="normal" fill="#000" >BM</text>
<rect x="444.00" y="10.30" width="11.50" height="9.20" fill="#fff" stroke="#000" stroke-width="1" />
<rect x="444.00" y="22.30" width="11.50" height="9.70" fill="#000" stroke="#000" stroke-width="1" />
<text class="sa" x="457.5" y="17.8" font-size="8.4" text-anchor="start" font-weight="normal" fill="#000" >129</text>
<text class="sa" x="457.5" y="30.8" font-size="8.6">STAT1<tspan font-size="5.5" dy="-3">-/-</tspan></text>
<text class="sa" x="306.5" y="128.2" font-size="11" text-anchor="start" font-weight="bold" fill="#000" >C</text>
<line x1="347.2" y1="123.4" x2="347.2" y2="156.3" stroke="#000" stroke-width="1.15" />
<line x1="347.2" y1="161.8" x2="347.2" y2="201.8" stroke="#000" stroke-width="1.15" />
<line x1="344.7" y1="201.8" x2="466" y2="201.8" stroke="#000" stroke-width="1.15" />
<line x1="344.7" y1="156.3" x2="347.2" y2="156.3" stroke="#000" stroke-width="0.8" />
<text class="se" x="344.2" y="158.3" font-size="6" text-anchor="end" font-weight="normal" fill="#000" >80</text>
<line x1="344.7" y1="148.07500000000002" x2="347.2" y2="148.07500000000002" stroke="#000" stroke-width="0.8" />
<text class="se" x="344.2" y="150.07500000000002" font-size="6" text-anchor="end" font-weight="normal" fill="#000" >90</text>
<line x1="344.7" y1="139.85000000000002" x2="347.2" y2="139.85000000000002" stroke="#000" stroke-width="0.8" />
<text class="se" x="344.2" y="141.85000000000002" font-size="6" text-anchor="end" font-weight="normal" fill="#000" >100</text>
<line x1="344.7" y1="131.625" x2="347.2" y2="131.625" stroke="#000" stroke-width="0.8" />
<text class="se" x="344.2" y="133.625" font-size="6" text-anchor="end" font-weight="normal" fill="#000" >110</text>
<line x1="344.7" y1="123.4" x2="347.2" y2="123.4" stroke="#000" stroke-width="0.8" />
<text class="se" x="344.2" y="125.4" font-size="6" text-anchor="end" font-weight="normal" fill="#000" >120</text>
<line x1="344.7" y1="201.8" x2="347.2" y2="201.8" stroke="#000" stroke-width="0.8" />
<text class="se" x="344.2" y="203.8" font-size="6" text-anchor="end" font-weight="normal" fill="#000" >0</text>
<line x1="344.7" y1="193.8" x2="347.2" y2="193.8" stroke="#000" stroke-width="0.8" />
<text class="se" x="344.2" y="195.8" font-size="6" text-anchor="end" font-weight="normal" fill="#000" >2</text>
<line x1="344.7" y1="185.8" x2="347.2" y2="185.8" stroke="#000" stroke-width="0.8" />
<text class="se" x="344.2" y="187.8" font-size="6" text-anchor="end" font-weight="normal" fill="#000" >4</text>
<line x1="344.7" y1="177.8" x2="347.2" y2="177.8" stroke="#000" stroke-width="0.8" />
<text class="se" x="344.2" y="179.8" font-size="6" text-anchor="end" font-weight="normal" fill="#000" >6</text>
<line x1="344.7" y1="169.8" x2="347.2" y2="169.8" stroke="#000" stroke-width="0.8" />
<text class="se" x="344.2" y="171.8" font-size="6" text-anchor="end" font-weight="normal" fill="#000" >8</text>
<line x1="344.7" y1="161.8" x2="347.2" y2="161.8" stroke="#000" stroke-width="0.8" />
<text class="se" x="344.2" y="163.8" font-size="6" text-anchor="end" font-weight="normal" fill="#000" >10</text>
<text class="sa" transform="translate(332,165) rotate(-90)" font-size="7.45" text-anchor="middle" fill="#000">IFNα fold change</text>
<rect x="349.92" y="190.22" width="9.55" height="11.58" fill="#fff" stroke="#000" stroke-width="1.05"/>
<rect x="364.52" y="193.22" width="9.95" height="8.58" fill="#000" stroke="#000" stroke-width="1.05"/>
<rect x="379.52" y="193.22" width="9.95" height="8.58" fill="#fff" stroke="#000" stroke-width="1.05"/>
<rect x="394.22" y="193.22" width="9.75" height="8.58" fill="#000" stroke="#000" stroke-width="1.05"/>
<rect x="409.52" y="131.22" width="8.95" height="70.58" fill="#fff" stroke="#000" stroke-width="1.05"/>
<rect x="423.52" y="186.53" width="10.25" height="15.28" fill="#000" stroke="#000" stroke-width="1.05"/>
<rect x="438.52" y="183.12" width="9.65" height="18.68" fill="#fff" stroke="#000" stroke-width="1.05"/>
<rect x="453.02" y="190.93" width="9.85" height="10.88" fill="#000" stroke="#000" stroke-width="1.05"/>
<rect x="407.00" y="156.60" width="14.00" height="4.60" fill="#fff" stroke="none" stroke-width="0" />
<text class="se" x="364.5" y="186.7" font-size="8" text-anchor="middle" font-weight="normal" fill="#000" >ns</text>
<text class="se" x="393" y="186.7" font-size="8" text-anchor="middle" font-weight="normal" fill="#000" >ns</text>
<text class="se" x="453" y="179" font-size="8" text-anchor="middle" font-weight="normal" fill="#000" >ns</text>
<line x1="414.5" y1="127.6" x2="430.5" y2="127.6" stroke="#000" stroke-width="1.2" />
<text class="se" x="422.5" y="129" font-size="10" text-anchor="middle" font-weight="normal" fill="#000" >*</text>
<line x1="377" y1="201.8" x2="377" y2="211" stroke="#000" stroke-width="1.1" />
<line x1="407.3" y1="201.8" x2="407.3" y2="215.4" stroke="#000" stroke-width="1.1" />
<line x1="438" y1="201.8" x2="438" y2="214" stroke="#000" stroke-width="1.1" />
<text class="se" x="362.6" y="211.2" font-size="7.4" text-anchor="middle" font-weight="normal" fill="#000" >BM</text>
<text class="se" x="391.5" y="211" font-size="7.4" text-anchor="middle" font-weight="normal" fill="#000" >Spleen</text>
<text class="se" x="423" y="211.2" font-size="7.4" text-anchor="middle" font-weight="normal" fill="#000" >BM</text>
<text class="se" x="452" y="211.2" font-size="7.4" text-anchor="middle" font-weight="normal" fill="#000" >Spleen</text>
<rect x="368.20" y="214.20" width="19.50" height="10.30" fill="#fff" stroke="#000" stroke-width="1.0" />
<text class="se" x="378" y="222" font-size="7.4" text-anchor="middle" font-weight="normal" fill="#000" >naive</text>
<rect x="418.80" y="213.80" width="38.20" height="19.40" fill="#fff" stroke="#000" stroke-width="1.0" />
<text class="se" x="438" y="221.5" font-size="7.4" text-anchor="middle" font-weight="normal" fill="#000" >day 14</text>
<text class="se" x="438" y="229.5" font-size="7.4" text-anchor="middle" font-weight="normal" fill="#000" >post-BMT</text>
<rect x="473.20" y="120.50" width="9.30" height="7.70" fill="#fff" stroke="#000" stroke-width="0.9" />
<rect x="473.20" y="130.30" width="9.30" height="8.50" fill="#000" stroke="#000" stroke-width="0.9" />
<text class="se" x="485" y="127.5" font-size="7.5" text-anchor="start" font-weight="normal" fill="#000" >129</text>
<text class="se" x="484.5" y="137.7" font-size="7.3" text-anchor="start" font-weight="normal" fill="#000" >STAT1 -/-</text>
<text class="sa" x="0.2" y="246.1" font-size="11" text-anchor="start" font-weight="bold" fill="#000" >D</text>
<line x1="28.9" y1="252.7" x2="28.9" y2="294" stroke="#000" stroke-width="1.4" />
<line x1="28.9" y1="301.3" x2="28.9" y2="349.7" stroke="#000" stroke-width="1.4" />
<line x1="25.4" y1="349.7" x2="176.5" y2="349.7" stroke="#000" stroke-width="1.4" />
<line x1="28.9" y1="294" x2="31.099999999999998" y2="294" stroke="#000" stroke-width="1.0" />
<line x1="28.9" y1="301.3" x2="31.099999999999998" y2="301.3" stroke="#000" stroke-width="1.0" />
<line x1="25.5" y1="294.0" x2="28.9" y2="294.0" stroke="#000" stroke-width="1.15" />
<text class="se" x="25.099999999999998" y="296.5" font-size="7.3" text-anchor="end" font-weight="normal" fill="#000" >100</text>
<line x1="25.5" y1="283.675" x2="28.9" y2="283.675" stroke="#000" stroke-width="1.15" />
<text class="se" x="25.099999999999998" y="286.175" font-size="7.3" text-anchor="end" font-weight="normal" fill="#000" >125</text>
<line x1="25.5" y1="273.35" x2="28.9" y2="273.35" stroke="#000" stroke-width="1.15" />
<text class="se" x="25.099999999999998" y="275.85" font-size="7.3" text-anchor="end" font-weight="normal" fill="#000" >150</text>
<line x1="25.5" y1="263.025" x2="28.9" y2="263.025" stroke="#000" stroke-width="1.15" />
<text class="se" x="25.099999999999998" y="265.525" font-size="7.3" text-anchor="end" font-weight="normal" fill="#000" >175</text>
<line x1="25.5" y1="252.7" x2="28.9" y2="252.7" stroke="#000" stroke-width="1.15" />
<text class="se" x="25.099999999999998" y="255.2" font-size="7.3" text-anchor="end" font-weight="normal" fill="#000" >200</text>
<line x1="25.5" y1="349.7" x2="28.9" y2="349.7" stroke="#000" stroke-width="1.15" />
<text class="se" x="25.099999999999998" y="352.2" font-size="7.3" text-anchor="end" font-weight="normal" fill="#000" >0.0</text>
<line x1="25.5" y1="337.59999999999997" x2="28.9" y2="337.59999999999997" stroke="#000" stroke-width="1.15" />
<text class="se" x="25.099999999999998" y="340.09999999999997" font-size="7.3" text-anchor="end" font-weight="normal" fill="#000" >2.5</text>
<line x1="25.5" y1="325.5" x2="28.9" y2="325.5" stroke="#000" stroke-width="1.15" />
<text class="se" x="25.099999999999998" y="328.0" font-size="7.3" text-anchor="end" font-weight="normal" fill="#000" >5.0</text>
<line x1="25.5" y1="313.4" x2="28.9" y2="313.4" stroke="#000" stroke-width="1.15" />
<text class="se" x="25.099999999999998" y="315.9" font-size="7.3" text-anchor="end" font-weight="normal" fill="#000" >7.5</text>
<line x1="25.5" y1="301.3" x2="28.9" y2="301.3" stroke="#000" stroke-width="1.15" />
<text class="se" x="25.099999999999998" y="303.8" font-size="7.3" text-anchor="end" font-weight="normal" fill="#000" >10.0</text>
<text class="sa" transform="translate(7.3,305.3) rotate(-90)" font-size="7.0" text-anchor="middle" textLength="63.4" lengthAdjust="spacingAndGlyphs">IFNα fold change</text>
<rect x="31.55" y="345.15" width="12.60" height="4.55" fill="#fff" stroke="#000" stroke-width="1.3"/>
<rect x="49.65" y="345.15" width="12.70" height="4.55" fill="#000" stroke="#000" stroke-width="1.3"/>
<rect x="68.25" y="345.15" width="12.50" height="4.55" fill="#fff" stroke="#000" stroke-width="1.3"/>
<rect x="86.65" y="345.15" width="12.70" height="4.55" fill="#000" stroke="#000" stroke-width="1.3"/>
<rect x="106.25" y="265.25" width="11.50" height="84.45" fill="#fff" stroke="#000" stroke-width="1.3"/>
<rect x="123.65" y="306.55" width="12.70" height="43.15" fill="#000" stroke="#000" stroke-width="1.3"/>
<rect x="141.85" y="345.15" width="12.50" height="4.55" fill="#fff" stroke="#000" stroke-width="1.3"/>
<rect x="160.25" y="345.15" width="12.50" height="4.55" fill="#000" stroke="#000" stroke-width="1.3"/>
<rect x="103.00" y="294.60" width="18.00" height="6.20" fill="#fff" stroke="none" stroke-width="0" />
<text class="se" x="48" y="340.6" font-size="10" text-anchor="middle" font-weight="normal" fill="#000" >ns</text>
<text class="se" x="82" y="340.6" font-size="10" text-anchor="middle" font-weight="normal" fill="#000" >ns</text>
<text class="se" x="159" y="340.6" font-size="10" text-anchor="middle" font-weight="normal" fill="#000" >ns</text>
<line x1="110" y1="261" x2="131" y2="261" stroke="#000" stroke-width="1.4" />
<text class="se" x="120" y="262" font-size="12" text-anchor="middle" font-weight="normal" fill="#000" >*</text>
<line x1="66.3" y1="349.7" x2="66.3" y2="368" stroke="#000" stroke-width="1.3" />
<line x1="103.3" y1="349.7" x2="103.3" y2="380.8" stroke="#000" stroke-width="1.3" />
<line x1="140" y1="349.7" x2="140" y2="366.5" stroke="#000" stroke-width="1.3" />
<text class="se" x="46.8" y="361.5" font-size="9.2" text-anchor="middle" font-weight="normal" fill="#000" >BM</text>
<text class="se" x="81.5" y="361.5" font-size="9.2" text-anchor="middle" font-weight="normal" fill="#000" >Spleen</text>
<text class="se" x="121.6" y="361.5" font-size="9.2" text-anchor="middle" font-weight="normal" fill="#000" >BM</text>
<text class="se" x="156.5" y="361.5" font-size="9.2" text-anchor="middle" font-weight="normal" fill="#000" >Spleen</text>
<rect x="53.20" y="367.80" width="25.30" height="15.40" fill="#fff" stroke="#000" stroke-width="1.2" />
<text class="se" x="66" y="378.5" font-size="9.2" text-anchor="middle" font-weight="normal" fill="#000" >naive</text>
<rect x="118.60" y="366.30" width="47.40" height="26.00" fill="#fff" stroke="#000" stroke-width="1.2" />
<text class="se" x="142.3" y="376.5" font-size="9.2" text-anchor="middle" font-weight="normal" fill="#000" >day 14</text>
<text class="se" x="142.3" y="387.5" font-size="9.2" text-anchor="middle" font-weight="normal" fill="#000" >post-BMT</text>
<text class="sa" x="182.7" y="224.1" font-size="11" text-anchor="start" font-weight="bold" fill="#000" >E</text>
<line x1="217.2" y1="221.8" x2="217.2" y2="264" stroke="#000" stroke-width="1.0" />
<line x1="217.2" y1="268.5" x2="217.2" y2="289.4" stroke="#000" stroke-width="1.0" />
<line x1="214.7" y1="289.4" x2="318.5" y2="289.4" stroke="#000" stroke-width="1.0" />
<line x1="217.2" y1="264" x2="219.0" y2="264" stroke="#000" stroke-width="0.8" />
<line x1="217.2" y1="269.4" x2="219.0" y2="269.4" stroke="#000" stroke-width="0.8" />
<line x1="214.7" y1="264.0" x2="217.2" y2="264.0" stroke="#000" stroke-width="0.8" />
<text class="sa" x="214.2" y="265.7" font-size="5.2" text-anchor="end" font-weight="bold" fill="#000" >3000</text>
<line x1="214.7" y1="258.725" x2="217.2" y2="258.725" stroke="#000" stroke-width="0.8" />
<text class="sa" x="214.2" y="260.425" font-size="5.2" text-anchor="end" font-weight="bold" fill="#000" >3500</text>
<line x1="214.7" y1="253.45" x2="217.2" y2="253.45" stroke="#000" stroke-width="0.8" />
<text class="sa" x="214.2" y="255.14999999999998" font-size="5.2" text-anchor="end" font-weight="bold" fill="#000" >4000</text>
<line x1="214.7" y1="248.175" x2="217.2" y2="248.175" stroke="#000" stroke-width="0.8" />
<text class="sa" x="214.2" y="249.875" font-size="5.2" text-anchor="end" font-weight="bold" fill="#000" >4500</text>
<line x1="214.7" y1="242.9" x2="217.2" y2="242.9" stroke="#000" stroke-width="0.8" />
<text class="sa" x="214.2" y="244.6" font-size="5.2" text-anchor="end" font-weight="bold" fill="#000" >5000</text>
<line x1="214.7" y1="237.625" x2="217.2" y2="237.625" stroke="#000" stroke-width="0.8" />
<text class="sa" x="214.2" y="239.325" font-size="5.2" text-anchor="end" font-weight="bold" fill="#000" >5500</text>
<line x1="214.7" y1="232.35000000000002" x2="217.2" y2="232.35000000000002" stroke="#000" stroke-width="0.8" />
<text class="sa" x="214.2" y="234.05" font-size="5.2" text-anchor="end" font-weight="bold" fill="#000" >6000</text>
<line x1="214.7" y1="227.07500000000002" x2="217.2" y2="227.07500000000002" stroke="#000" stroke-width="0.8" />
<text class="sa" x="214.2" y="228.775" font-size="5.2" text-anchor="end" font-weight="bold" fill="#000" >6500</text>
<line x1="214.7" y1="221.8" x2="217.2" y2="221.8" stroke="#000" stroke-width="0.8" />
<text class="sa" x="214.2" y="223.5" font-size="5.2" text-anchor="end" font-weight="bold" fill="#000" >7000</text>
<line x1="214.7" y1="289.4" x2="217.2" y2="289.4" stroke="#000" stroke-width="0.8" />
<text class="sa" x="214.2" y="291.09999999999997" font-size="5.2" text-anchor="end" font-weight="bold" fill="#000" >0.0</text>
<line x1="214.7" y1="279.4" x2="217.2" y2="279.4" stroke="#000" stroke-width="0.8" />
<text class="sa" x="214.2" y="281.09999999999997" font-size="5.2" text-anchor="end" font-weight="bold" fill="#000" >2.5</text>
<line x1="214.7" y1="269.4" x2="217.2" y2="269.4" stroke="#000" stroke-width="0.8" />
<text class="sa" x="214.2" y="271.09999999999997" font-size="5.2" text-anchor="end" font-weight="bold" fill="#000" >5.0</text>
<text class="sa" transform="translate(197.5,260.7) rotate(-90)" font-size="7.4" text-anchor="middle" fill="#000">IL-12 fold change</text>
<line x1="229.4" y1="225.3" x2="229.4" y2="237.2" stroke="#000" stroke-width="0.9" />
<line x1="225.05" y1="225.3" x2="233.75" y2="225.3" stroke="#000" stroke-width="0.9" />
<line x1="254.7" y1="276.4" x2="254.7" y2="280.4" stroke="#000" stroke-width="0.9" />
<line x1="250.35" y1="276.4" x2="259.05" y2="276.4" stroke="#000" stroke-width="0.9" />
<rect x="220.95" y="237.65" width="16.80" height="51.75" fill="#fff" stroke="#000" stroke-width="0.9"/>
<rect x="246.25" y="280.85" width="16.80" height="8.55" fill="#000" stroke="#000" stroke-width="0.9"/>
<rect x="271.45" y="251.75" width="17.00" height="37.65" fill="#fff" stroke="#000" stroke-width="0.9"/>
<rect x="219.50" y="265.40" width="72.00" height="3.60" fill="#fff" stroke="none" stroke-width="0" />
<line x1="230.2" y1="221.3" x2="258" y2="221.3" stroke="#000" stroke-width="1.1" />
<text class="sa" x="244" y="221" font-size="7" text-anchor="middle" font-weight="bold" fill="#000" >*</text>
<line x1="267.8" y1="289.4" x2="267.8" y2="300.7" stroke="#000" stroke-width="0.9" />
<text class="sa" x="241" y="296.6" font-size="5.9" text-anchor="middle" font-weight="normal" fill="#000" >BM</text>
<text class="sa" x="292.2" y="296.6" font-size="6.3" text-anchor="middle" font-weight="normal" fill="#000" >Spleen</text>
<text class="sa" x="304" y="285.6" font-size="4.4" text-anchor="middle" font-weight="normal" fill="#000" >ND</text>
<text class="sa" x="183" y="317.5" font-size="11" text-anchor="start" font-weight="bold" fill="#000" >F</text>
<line x1="214" y1="315.8" x2="214" y2="379.2" stroke="#000" stroke-width="0.9" />
<line x1="211.5" y1="379.2" x2="308" y2="379.2" stroke="#000" stroke-width="0.9" />
<line x1="211.5" y1="379.2" x2="214" y2="379.2" stroke="#000" stroke-width="0.8" />
<text class="sa" x="211" y="380.59999999999997" font-size="3.8" text-anchor="end" font-weight="bold" fill="#000" >0</text>
<line x1="211.5" y1="363.35" x2="214" y2="363.35" stroke="#000" stroke-width="0.8" />
<text class="sa" x="211" y="364.75" font-size="3.8" text-anchor="end" font-weight="bold" fill="#000" >50</text>
<line x1="211.5" y1="347.5" x2="214" y2="347.5" stroke="#000" stroke-width="0.8" />
<text class="sa" x="211" y="348.9" font-size="3.8" text-anchor="end" font-weight="bold" fill="#000" >100</text>
<line x1="211.5" y1="331.65" x2="214" y2="331.65" stroke="#000" stroke-width="0.8" />
<text class="sa" x="211" y="333.04999999999995" font-size="3.8" text-anchor="end" font-weight="bold" fill="#000" >150</text>
<line x1="211.5" y1="315.8" x2="214" y2="315.8" stroke="#000" stroke-width="0.8" />
<text class="sa" x="211" y="317.2" font-size="3.8" text-anchor="end" font-weight="bold" fill="#000" >200</text>
<text class="sa" transform="translate(195.8,348.9) rotate(-90)" font-size="5.6" text-anchor="middle" fill="#000">IL-10 (pg/mL)</text>
<line x1="225.95" y1="360.3" x2="225.95" y2="363.4" stroke="#000" stroke-width="0.9" />
<line x1="221.95" y1="360.3" x2="229.95" y2="360.3" stroke="#000" stroke-width="0.9" />
<rect x="217.95" y="363.85" width="16.00" height="15.35" fill="#fff" stroke="#000" stroke-width="0.9"/>
<line x1="225.95" y1="379.2" x2="225.95" y2="381.2" stroke="#000" stroke-width="0.8" />
<line x1="249.75" y1="329.2" x2="249.75" y2="340" stroke="#000" stroke-width="0.9" />
<line x1="245.75" y1="329.2" x2="253.75" y2="329.2" stroke="#000" stroke-width="0.9" />
<rect x="241.95" y="340.45" width="15.60" height="38.75" fill="#000" stroke="#000" stroke-width="0.9"/>
<line x1="249.75" y1="379.2" x2="249.75" y2="381.2" stroke="#000" stroke-width="0.8" />
<line x1="273.65" y1="349.4" x2="273.65" y2="353.7" stroke="#000" stroke-width="0.9" />
<line x1="269.65" y1="349.4" x2="277.65" y2="349.4" stroke="#000" stroke-width="0.9" />
<rect x="265.75" y="354.15" width="15.80" height="25.05" fill="#fff" stroke="#000" stroke-width="0.9"/>
<line x1="273.65" y1="379.2" x2="273.65" y2="381.2" stroke="#000" stroke-width="0.8" />
<line x1="297.6" y1="351.2" x2="297.6" y2="355.8" stroke="#000" stroke-width="0.9" />
<line x1="293.6" y1="351.2" x2="301.6" y2="351.2" stroke="#000" stroke-width="0.9" />
<rect x="289.85" y="356.25" width="15.50" height="22.95" fill="#000" stroke="#000" stroke-width="0.9"/>
<line x1="297.6" y1="379.2" x2="297.6" y2="381.2" stroke="#000" stroke-width="0.8" />
<line x1="226.8" y1="323.4" x2="251.4" y2="323.4" stroke="#000" stroke-width="0.9" />
<text class="sa" x="240" y="322.7" font-size="6" text-anchor="middle" font-weight="bold" fill="#000" >*</text>
<line x1="262" y1="379.2" x2="262" y2="394" stroke="#000" stroke-width="1.0" />
<text class="sa" x="239" y="389.1" font-size="5.3" text-anchor="middle" font-weight="normal" fill="#000" >BM</text>
<text class="sa" x="287.4" y="389.1" font-size="5.3" text-anchor="middle" font-weight="normal" fill="#000" >Spleen</text>
<rect x="310.20" y="316.00" width="8.30" height="4.40" fill="#fff" stroke="#000" stroke-width="0.8" />
<rect x="310.20" y="324.20" width="8.30" height="4.50" fill="#000" stroke="#000" stroke-width="0.8" />
<text class="sa" x="321.8" y="320.2" font-size="5.3" text-anchor="start" font-weight="normal" fill="#000" >129 pDCs</text>
<text class="sa" x="321.8" y="328.5" font-size="5.3">STAT1<tspan font-size="3.2" dy="-1.8">-/-</tspan><tspan dy="1.8"> pDCs</tspan></text>
<text class="sa" x="354" y="250.5" font-size="11" text-anchor="start" font-weight="bold" fill="#000" >G</text>
<line x1="389.2" y1="251" x2="389.2" y2="336.8" stroke="#000" stroke-width="1.3" />
<line x1="386.2" y1="336.8" x2="519" y2="336.8" stroke="#000" stroke-width="1.3" />
<line x1="386.4" y1="336.8" x2="389.2" y2="336.8" stroke="#000" stroke-width="0.9" />
<text class="se" x="386.0" y="338.6" font-size="5.4" text-anchor="end" font-weight="normal" fill="#000" >0</text>
<line x1="386.4" y1="308.2" x2="389.2" y2="308.2" stroke="#000" stroke-width="0.9" />
<text class="se" x="386.0" y="310.0" font-size="5.4" text-anchor="end" font-weight="normal" fill="#000" >1</text>
<line x1="386.4" y1="279.6" x2="389.2" y2="279.6" stroke="#000" stroke-width="0.9" />
<text class="se" x="386.0" y="281.40000000000003" font-size="5.4" text-anchor="end" font-weight="normal" fill="#000" >2</text>
<line x1="386.4" y1="251.0" x2="389.2" y2="251.0" stroke="#000" stroke-width="0.9" />
<text class="se" x="386.0" y="252.8" font-size="5.4" text-anchor="end" font-weight="normal" fill="#000" >3</text>
<text class="sa" transform="translate(368.8,296) rotate(-90)" font-size="7.3" text-anchor="middle" fill="#000">Tolerogenic:Stimulatory</text>
<text class="sa" transform="translate(377.6,296.7) rotate(-90)" font-size="7.5" text-anchor="middle" fill="#000">pDC ratio</text>
<rect x="392.35" y="314.05" width="10.30" height="22.75" fill="#fff" stroke="#000" stroke-width="1.1"/>
<line x1="413.9" y1="305.4" x2="413.9" y2="311" stroke="#000" stroke-width="1.1" />
<line x1="410.9" y1="305.4" x2="416.9" y2="305.4" stroke="#000" stroke-width="1.1" />
<rect x="408.75" y="311.55" width="10.30" height="25.25" fill="#000" stroke="#000" stroke-width="1.1"/>
<line x1="430.15" y1="268.4" x2="430.15" y2="273.5" stroke="#000" stroke-width="1.1" />
<line x1="427.15" y1="268.4" x2="433.15" y2="268.4" stroke="#000" stroke-width="1.1" />
<rect x="425.25" y="274.05" width="9.80" height="62.75" fill="#fff" stroke="#000" stroke-width="1.1"/>
<line x1="446.1" y1="281" x2="446.1" y2="283.6" stroke="#000" stroke-width="1.1" />
<line x1="443.1" y1="281" x2="449.1" y2="281" stroke="#000" stroke-width="1.1" />
<rect x="440.95" y="284.15" width="10.30" height="52.65" fill="#000" stroke="#000" stroke-width="1.1"/>
<line x1="462.0" y1="310.2" x2="462.0" y2="312.2" stroke="#000" stroke-width="1.1" />
<line x1="459.0" y1="310.2" x2="465.0" y2="310.2" stroke="#000" stroke-width="1.1" />
<rect x="456.85" y="312.75" width="10.30" height="24.05" fill="#fff" stroke="#000" stroke-width="1.1"/>
<line x1="478.2" y1="305.9" x2="478.2" y2="312.7" stroke="#000" stroke-width="1.1" />
<line x1="475.2" y1="305.9" x2="481.2" y2="305.9" stroke="#000" stroke-width="1.1" />
<rect x="472.95" y="313.25" width="10.50" height="23.55" fill="#000" stroke="#000" stroke-width="1.1"/>
<line x1="494.04999999999995" y1="282.3" x2="494.04999999999995" y2="287.7" stroke="#000" stroke-width="1.1" />
<line x1="491.04999999999995" y1="282.3" x2="497.04999999999995" y2="282.3" stroke="#000" stroke-width="1.1" />
<rect x="488.95" y="288.25" width="10.20" height="48.55" fill="#fff" stroke="#000" stroke-width="1.1"/>
<rect x="504.85" y="261.35" width="10.80" height="75.45" fill="#000" stroke="#000" stroke-width="1.1"/>
<line x1="397.3" y1="302" x2="413.3" y2="302" stroke="#000" stroke-width="1.2" />
<text class="se" x="405.3" y="299.7" font-size="8" text-anchor="middle" font-weight="normal" fill="#000" >ns</text>
<line x1="429.7" y1="265.4" x2="445.7" y2="265.4" stroke="#000" stroke-width="1.2" />
<text class="se" x="437.7" y="263.09999999999997" font-size="8" text-anchor="middle" font-weight="normal" fill="#000" >ns</text>
<line x1="461.8" y1="301.4" x2="479" y2="301.4" stroke="#000" stroke-width="1.2" />
<text class="se" x="470.4" y="299.09999999999997" font-size="8" text-anchor="middle" font-weight="normal" fill="#000" >ns</text>
<line x1="494.7" y1="255.3" x2="510.4" y2="255.3" stroke="#000" stroke-width="1.2" />
<text class="se" x="503.3" y="256" font-size="12" text-anchor="middle" font-weight="normal" fill="#000" >*</text>
<line x1="422.7" y1="336.8" x2="422.7" y2="352.5" stroke="#000" stroke-width="1.2" />
<line x1="455" y1="336.8" x2="455" y2="366" stroke="#000" stroke-width="1.3" />
<line x1="487.8" y1="336.8" x2="487.8" y2="352" stroke="#000" stroke-width="1.2" />
<text class="se" x="402.7" y="348" font-size="8.2" text-anchor="middle" font-weight="normal" fill="#000" >Spleen</text>
<text class="se" x="437.8" y="348" font-size="8.2" text-anchor="middle" font-weight="normal" fill="#000" >BM</text>
<text class="se" x="469.6" y="348" font-size="8.2" text-anchor="middle" font-weight="normal" fill="#000" >Spleen</text>
<text class="se" x="504" y="348" font-size="8.2" text-anchor="middle" font-weight="normal" fill="#000" >BM</text>
<rect x="411.50" y="352.50" width="22.00" height="14.00" fill="#fff" stroke="#000" stroke-width="1.0" />
<text class="se" x="422.5" y="362.3" font-size="8.2" text-anchor="middle" font-weight="normal" fill="#000" >naive</text>
<rect x="466.60" y="352.00" width="42.40" height="24.00" fill="#fff" stroke="#000" stroke-width="1.0" />
<text class="se" x="487.8" y="362" font-size="8.2" text-anchor="middle" font-weight="normal" fill="#000" >Day 14</text>
<text class="se" x="487.8" y="372" font-size="8.2" text-anchor="middle" font-weight="normal" fill="#000" >post-BMT</text>
</svg>
</body>
</html>
